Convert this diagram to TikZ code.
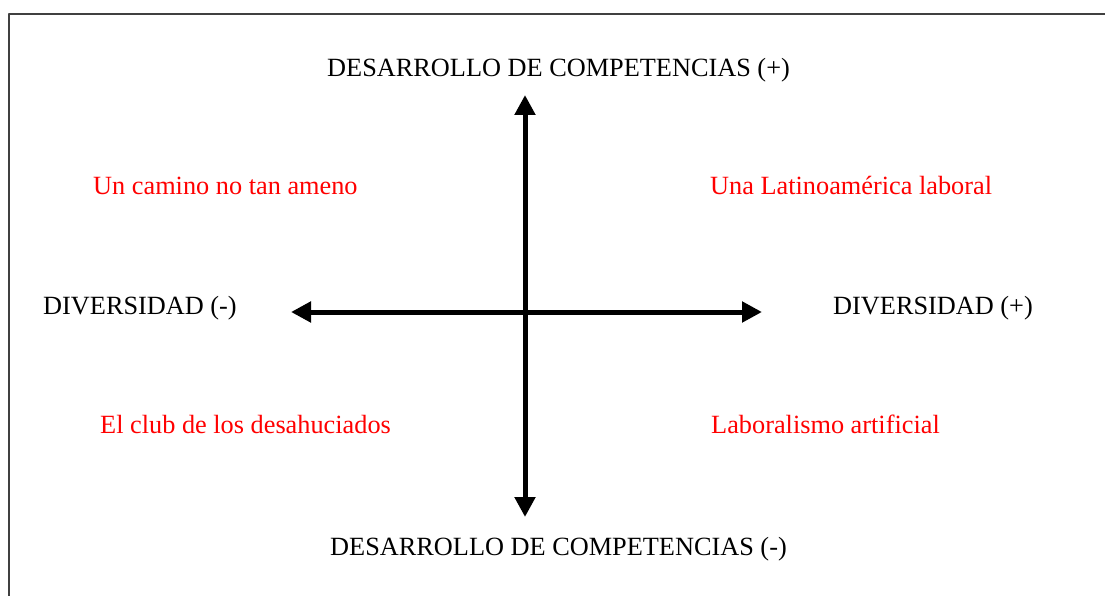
\documentclass[tikz,border=0pt]{standalone}
\usepackage{fontspec}
\setmainfont{Liberation Serif}
\usetikzlibrary{arrows.meta}
\tikzset{>={Triangle[length=20pt,width=20pt]}}
\tikzset{
  axislabel/.style={anchor=base west, inner sep=0pt, font=\fontsize{26.3}{30}\selectfont},
  quadlabel/.style={axislabel, text=red},
  axis/.style={<->, line width=5pt}
}

\begin{document}
\begin{tikzpicture}[x=1pt, y=-1pt, line join = round]
    \useasboundingbox (0,0) rectangle (1105,596);
    \fill[white] (0,0) rectangle (1105,596);
    \draw[line width=2pt, black!75] (9,596) -- (9,14) -- (1105,14);

    % axis ends
    \coordinate (north) at (525,95);
    \coordinate (south) at (525,517);
    \coordinate (west) at (291,312);
    \coordinate (east) at (762,312);
    \draw[axis] (south) -- (north);
    \draw[axis] (west) -- (east);

    \node[axislabel] (compplus) at (327,77) {DESARROLLO DE COMPETENCIAS (+)};
    \node[axislabel] (compminus) at (330,555) {DESARROLLO DE COMPETENCIAS (-)};
    \node[axislabel] (divminus) at (43,314) {DIVERSIDAD (-)};
    \node[axislabel] (divplus) at (833,314) {DIVERSIDAD (+)};

    \node[quadlabel] (camino) at (93,195) {Un camino no tan ameno};
    \node[quadlabel] (latino) at (710,195) {Una Latinoamérica laboral};
    \node[quadlabel] (club) at (100,433) {El club de los desahuciados};
    \node[quadlabel] (artificial) at (711,433) {Laboralismo artificial};

\end{tikzpicture}
\end{document}
